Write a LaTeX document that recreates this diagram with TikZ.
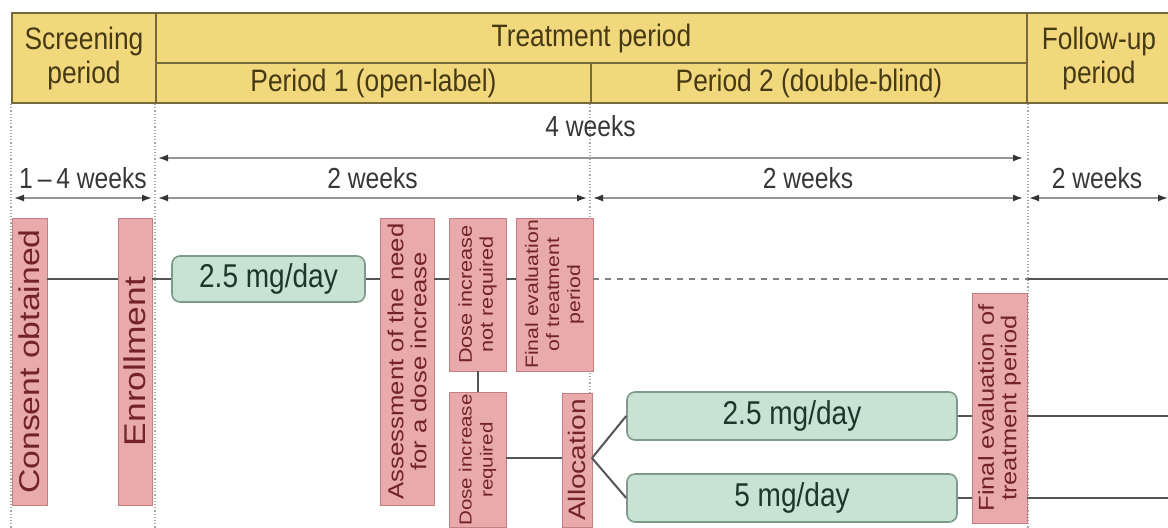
\documentclass[tikz,border=0pt]{standalone}
\usepackage{fontspec}
\setmainfont[FakeStretch=0.85]{Liberation Sans}
\newfontfamily\tallfont[FakeStretch=1.18]{Liberation Sans}
\usetikzlibrary{arrows.meta}

\definecolor{headfill}{RGB}{242,216,125}
\definecolor{headline}{RGB}{120,105,60}
\definecolor{headtext}{RGB}{70,58,20}
\definecolor{eventfill}{RGB}{232,170,170}
\definecolor{eventline}{RGB}{196,128,128}
\definecolor{eventtext}{RGB}{115,35,40}
\definecolor{dosefill}{RGB}{200,226,212}
\definecolor{doseline}{RGB}{125,155,140}
\definecolor{dosetext}{RGB}{30,55,45}
\definecolor{connline}{RGB}{85,85,85}
\definecolor{dimline}{RGB}{150,150,150}
\definecolor{lbltext}{RGB}{55,55,55}

\begin{document}
\begin{tikzpicture}[x=0.5pt, y=-0.5pt,
  head/.style={draw=headline, fill=headfill, line width=1pt, text=headtext, anchor=north west,
    inner sep=0pt, align=center, font=\fontsize{15.5}{17}\selectfont},
  event/.style={draw=eventline, fill=eventfill, rotate=90, text=eventtext, align=center, inner sep=1pt},
  dose/.style={draw=doseline, fill=dosefill, line width=0.8pt, rounded corners=4pt, text=dosetext,
    font=\fontsize{16.5}{18}\selectfont},
  conn/.style={draw=connline, line width=1pt},
  dim/.style={{Latex[length=5pt,width=3.5pt,color=black!80]}-{Latex[length=5pt,width=3.5pt,color=black!80]},
    draw=dimline, line width=0.8pt, shorten <=1.5pt, shorten >=1.5pt},
  lbl/.style={text=lbltext, font=\fontsize{14.5}{16}\selectfont},
  sep/.style={draw=gray!70, densely dotted, line width=0.6pt}
]
\useasboundingbox (0,0) rectangle (1168,527);

% header
\node[head, minimum width=72pt, minimum height=45pt] (screen) at (11,12) {Screening\\period};
\node[head, minimum width=435.5pt, minimum height=25pt] (treat) at (155,12) {Treatment period};
\node[head, minimum width=217.5pt, minimum height=20pt] (per1) at (155,62) {Period 1 (open-label)};
\node[head, minimum width=218pt, minimum height=20pt] (per2) at (590,62) {Period 2 (double-blind)};
\node[head, minimum width=72pt, minimum height=45pt] (follow) at (1026,12) {Follow-up\\period};

% period borders
\draw[sep] (screen.south west) -- ++(0,425);
\draw[sep] (per1.south west) -- ++(0,425);
\draw[sep] (per2.south west) -- ++(0,425);
\draw[sep] (per2.south east) -- ++(0,425);

% durations
\coordinate (v1) at (155,158);
\coordinate (v3) at (1026,158);
\coordinate (w0) at (11,198);
\coordinate (w1) at (155,198);
\coordinate (w2) at (590,198);
\coordinate (w3) at (1026,198);
\coordinate (w4) at (1168,198);
\draw[dim] (v1) -- (v3) node[lbl, midway, above=7pt] {4 weeks};
\draw[dim] (w0) -- (w1) node[lbl, midway, above=1pt] {1\,--\,4 weeks};
\draw[dim] (w1) -- (w2) node[lbl, midway, above=1pt] {2 weeks};
\draw[dim] (w2) -- (w3) node[lbl, midway, above=1pt] {2 weeks};
\draw[dim, shorten >=0pt] (w3) -- (w4) node[lbl, midway, above=1pt] {2 weeks};

% events
\node[event, minimum width=143.5pt, minimum height=17.5pt,
  font=\tallfont\fontsize{14.3}{15}\selectfont] (consent) at (29.5,361.5) {Consent obtained};
\node[event, minimum width=143.5pt, minimum height=17pt,
  font=\tallfont\fontsize{15}{16}\selectfont] (enroll) at (135,361.5) {Enrollment};
\node[event, minimum width=143.5pt, minimum height=27pt,
  font=\tallfont\fontsize{10.9}{11.5}\selectfont] (assess) at (407,361.5) {Assessment of the need\\for a dose increase};
\node[event, minimum width=76.5pt, minimum height=28.5pt,
  font=\tallfont\fontsize{9.2}{10.5}\selectfont] (notreq) at (477.5,294.5) {Dose increase\\not required};
\node[event, minimum width=76.5pt, minimum height=38.5pt,
  font=\tallfont\fontsize{9}{10.5}\selectfont] (finalone) at (554.5,294.5) {Final evaluation\\of treatment\\period};
\node[event, minimum width=67pt, minimum height=28.5pt,
  font=\tallfont\fontsize{8.7}{10.5}\selectfont] (req) at (477.5,460) {Dose increase\\required};
\node[event, minimum width=67pt, minimum height=15pt,
  font=\tallfont\fontsize{11.9}{13}\selectfont] (alloc) at (577,460) {Allocation};
\node[event, minimum width=115pt, minimum height=27.5pt,
  font=\tallfont\fontsize{10.8}{11.2}\selectfont] (finaltwo) at (999.5,408) {Final evaluation of\\treatment period};

% doses
\node[dose, minimum width=96.5pt, minimum height=23pt] (dosea) at (268.5,279) {2.5 mg/day};
\node[dose, minimum width=165pt, minimum height=24pt] (doseb) at (792,416) {2.5 mg/day};
\node[dose, minimum width=165pt, minimum height=24pt] (dosec) at (792,498) {5 mg/day};

% flow
\coordinate (branch) at (592,458);
\draw[conn] (consent.south |- dosea) -- (enroll.north |- dosea);
\draw[conn] (enroll.south |- dosea) -- (dosea);
\draw[conn] (dosea) -- (assess.north |- dosea);
\draw[conn] (assess.south |- dosea) -- (notreq.north |- dosea);
\draw[conn] (notreq.south |- dosea) -- (finalone.north |- dosea);
\draw[conn, draw=gray, dash pattern=on 3pt off 3pt] (finalone.south |- dosea) -- (per2.south east |- dosea);
\draw[conn] (per2.south east |- dosea) -- (dosea -| w4);
\draw[conn] (notreq) -- (req);
\draw[conn] (req.south |- branch) -- (alloc.north |- branch);
\draw[conn] (branch) -- (doseb.west);
\draw[conn] (branch) -- (dosec.west);
\draw[conn] (doseb) -- (finaltwo.north |- doseb);
\draw[conn] (finaltwo.south |- doseb) -- (doseb -| w4);
\draw[conn] (dosec) -- (finaltwo.north |- dosec);
\draw[conn] (finaltwo.south |- dosec) -- (dosec -| w4);
\end{tikzpicture}
\end{document}
